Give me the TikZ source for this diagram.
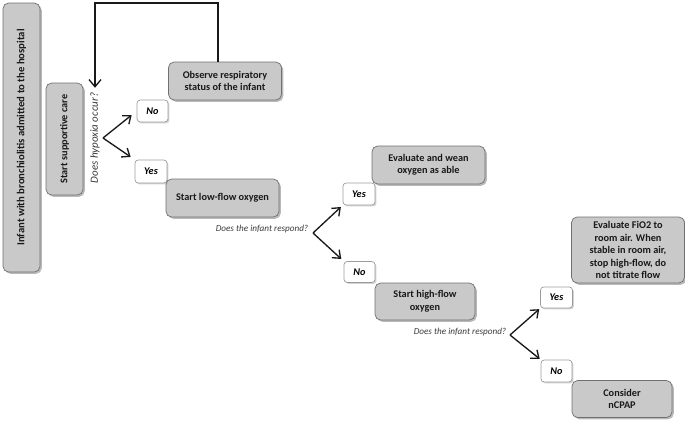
\documentclass[tikz,border=0pt]{standalone}
\usepackage{fontspec}
\setmainfont{Carlito}
\usepackage{xcolor,tikz}
\usetikzlibrary{positioning,calc,arrows.meta,shadows}
\definecolor{bxFill}{HTML}{C9C9C9}
\definecolor{bxLine}{HTML}{707070}
\definecolor{tagLine}{HTML}{9C9C9C}
\definecolor{noteGrey}{HTML}{3A3A3A}

\def\pxl{0.25mm}   % one pixel of the layout grid

\tikzset{
  stepbox/.style={draw=bxLine, fill=bxFill, rounded corners=1.4mm, line width=0.5pt,
    align=center, inner sep=1pt, text=black!90,
    font=\fontsize{7.3}{8.9}\selectfont\bfseries,
    drop shadow={shadow xshift=0.45mm, shadow yshift=-0.45mm, fill=black!50, opacity=0.55}},
  tagbox/.style={draw=tagLine, fill=white, rounded corners=0.8mm, line width=0.5pt,
    inner sep=0pt, font=\fontsize{7.3}{8}\selectfont\bfseries\itshape,
    drop shadow={shadow xshift=0.35mm, shadow yshift=-0.35mm, fill=black!35, opacity=0.5}},
  asknote/.style={font=\fontsize{6.5}{7}\selectfont\itshape, text=noteGrey, inner sep=0pt},
  flowarr/.style={-{Straight Barb[length=1.7mm,width=2.7mm]}, line width=0.95pt, black!90},
}

\begin{document}
\begin{tikzpicture}[x=\pxl, y=-\pxl]

% --- CANVAS ---
\useasboundingbox (0,0) rectangle (685,422);

% --- ADMISSION AND SUPPORTIVE CARE ---
\node[stepbox, font=\fontsize{7.6}{9}\selectfont\bfseries,
  minimum width=37*\pxl, minimum height=269*\pxl] (admit) at (21.5,137.5)
  {\rotatebox{90}{Infant with bronchiolitis admitted to the hospital}};
\node[stepbox, minimum width=37*\pxl, minimum height=112*\pxl] (support) at (64.5,139)
  {\rotatebox{90}{Start supportive care}};
\node[asknote, font=\fontsize{7.8}{8}\selectfont\itshape, rotate=90] (hypq) at (95,138)
  {Does hypoxia occur?};

% --- FIRST SPLIT: HYPOXIA ---
\coordinate (q1) at (103,138);
\node[tagbox, minimum width=31*\pxl, minimum height=22*\pxl] (no1) at (152.5,111) {No};
\node[tagbox, minimum width=32*\pxl, minimum height=23*\pxl] (yes1) at (151,171.5) {Yes};
\node[stepbox, minimum width=113*\pxl, minimum height=38*\pxl] (observe) at (225,81)
  {Observe respiratory\\status of the infant};
\node[stepbox, minimum width=113*\pxl, minimum height=38*\pxl] (lowflow) at (222.5,198)
  {Start low-flow oxygen};

\draw[flowarr, shorten >=1.6mm] (q1) -- (no1.west);
\draw[flowarr, shorten >=1.2mm] (q1) -- (yes1.north west);

% loop back from observation
\coordinate (loopTop) at (95,3);
\draw[flowarr, -{Straight Barb[length=1.8mm,width=3mm]}, shorten >=1.2mm]
  ([xshift=-1.75mm]observe.north) |- (loopTop) -- (hypq.east);

% --- SECOND SPLIT: LOW-FLOW RESPONSE ---
\node[asknote] (resp1) at (262,229) {Does the infant respond?};
\coordinate (q2) at (313,233);
\node[tagbox, minimum width=32*\pxl, minimum height=22*\pxl] (yes2) at (359,194) {Yes};
\node[tagbox, minimum width=31*\pxl, minimum height=21*\pxl] (no2) at (359.5,272) {No};
\node[stepbox, minimum width=113*\pxl, minimum height=38*\pxl] (wean) at (428.5,165)
  {Evaluate and wean\\oxygen as able};
\node[stepbox, minimum width=100*\pxl, minimum height=37*\pxl] (highflow) at (425,301.5)
  {Start high-flow\\oxygen};

\draw[flowarr, shorten >=0.6mm] (q2) -- (yes2.south west);
\draw[flowarr, shorten >=0.8mm] (q2) -- (no2.north west);

% --- THIRD SPLIT: HIGH-FLOW RESPONSE ---
\node[asknote] (resp2) at (460,332) {Does the infant respond?};
\coordinate (q3) at (510,335);
\node[tagbox, minimum width=32*\pxl, minimum height=21*\pxl] (yes3) at (556.5,297.5) {Yes};
\node[tagbox, minimum width=31*\pxl, minimum height=22*\pxl] (no3) at (556.5,371) {No};
\node[stepbox, minimum width=113*\pxl, minimum height=66*\pxl] (fio2) at (628,250)
  {Evaluate FiO2 to\\room air. When\\stable in room air,\\stop high-flow, do\\not titrate flow};
\node[stepbox, minimum width=100*\pxl, minimum height=37*\pxl] (ncpap) at (622,399)
  {Consider\\nCPAP};

\draw[flowarr, shorten >=0.3mm] (q3) -- (yes3.south west);
\draw[flowarr, shorten >=0.3mm] (q3) -- (no3.north west);

\end{tikzpicture}
\end{document}
